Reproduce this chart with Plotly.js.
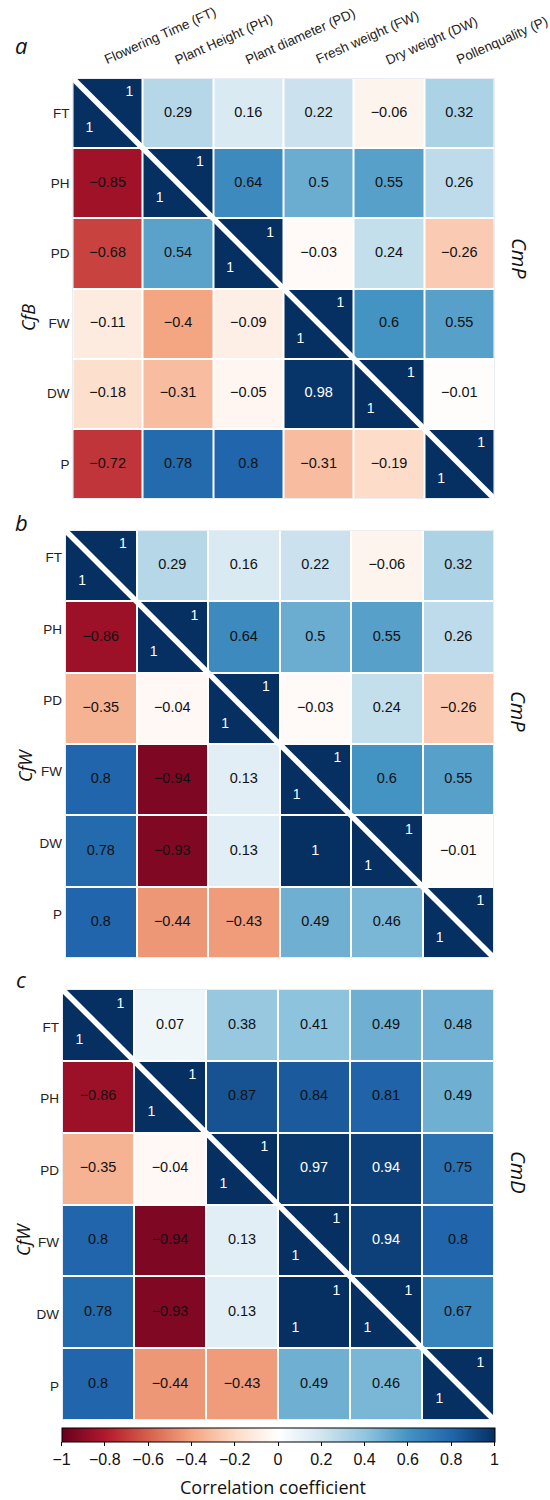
<!DOCTYPE html>
<html>
<head>
<meta charset="utf-8">
<script src="https://cdn.plot.ly/plotly-3.0.1.min.js"></script>
<style>html,body{margin:0;padding:0;background:#fff}</style>
</head>
<body>
<div id="chart" style="width:550px;height:1500px"></div>
<script>
// Trait names (column headers) and short codes (row labels)
const traitNames = ['Flowering Time (FT)', 'Plant Height (PH)', 'Plant diameter (PD)',
                    'Fresh weight (FW)', 'Dry weight (DW)', 'Pollenquality (P)'];
const traitCodes = ['FT', 'PH', 'PD', 'FW', 'DW', 'P'];

// Correlation matrices: lower triangle = first population, upper triangle = second
const corrA = [
  [ 1,     0.29,  0.16,  0.22, -0.06,  0.32],
  [-0.85,  1,     0.64,  0.5,   0.55,  0.26],
  [-0.68,  0.54,  1,    -0.03,  0.24, -0.26],
  [-0.11, -0.4,  -0.09,  1,     0.6,   0.55],
  [-0.18, -0.31, -0.05,  0.98,  1,    -0.01],
  [-0.72,  0.78,  0.8,  -0.31, -0.19,  1]
];
const corrB = [
  [ 1,     0.29,  0.16,  0.22, -0.06,  0.32],
  [-0.86,  1,     0.64,  0.5,   0.55,  0.26],
  [-0.35, -0.04,  1,    -0.03,  0.24, -0.26],
  [ 0.8,  -0.94,  0.13,  1,     0.6,   0.55],
  [ 0.78, -0.93,  0.13,  1,     1,    -0.01],
  [ 0.8,  -0.44, -0.43,  0.49,  0.46,  1]
];
const corrC = [
  [ 1,     0.07,  0.38,  0.41,  0.49,  0.48],
  [-0.86,  1,     0.87,  0.84,  0.81,  0.49],
  [-0.35, -0.04,  1,     0.97,  0.94,  0.75],
  [ 0.8,  -0.94,  0.13,  1,     0.94,  0.8],
  [ 0.78, -0.93,  0.13,  1,     1,     0.67],
  [ 0.8,  -0.44, -0.43,  0.49,  0.46,  1]
];
// off-diagonal cells whose value is written in the corners, like the diagonal
const cornerCellsA = [];
const cornerCellsB = [];
const cornerCellsC = [[4, 3]];

const panelLetters = ['a', 'b', 'c'];
const lowerGroups = ['CfB', 'CfW', 'CfW'];
const upperGroups = ['CmP', 'CmP', 'CmD'];

const colorTickVals = [-1, -0.8, -0.6, -0.4, -0.2, 0, 0.2, 0.4, 0.6, 0.8, 1];

const rdbu = [
  [0.0, '#67001F'], [0.1, '#B2182B'], [0.2, '#D6604D'], [0.3, '#F4A582'],
  [0.4, '#FDDBC7'], [0.5, '#FFFFFF'], [0.6, '#D1E5F0'], [0.7, '#92C5DE'],
  [0.8, '#4393C3'], [0.9, '#2166AC'], [1.0, '#053061']
];

const W = 550, H = 1500;
const px = v => v / W;
const py = v => 1 - v / H;

// panel boxes in pixels: [left, right, top, bottom]
const boxes = [
  [72.5, 494.5, 78, 499],
  [65, 494, 530, 958],
  [62, 494, 989, 1420]
];
// vertical nudge of the row labels in each panel (pixels)
const rowLabelShift = [0, 8, -2];
const matrices = [corrA, corrB, corrC];
const cornerSets = [cornerCellsA, cornerCellsB, cornerCellsC];
const idx = [0, 1, 2, 3, 4, 5];

const numFont = 'Liberation Sans, Arial, sans-serif';
const humanFont = 'Open Sans, Noto Sans, sans-serif';

function fmt(v) {
  return (v < 0 ? '\u2212' : '') + String(Math.abs(v));
}

const traces = [];
const shapes = [];
const annotations = [];
const layout = {
  width: W, height: H,
  margin: {l: 0, r: 0, t: 0, b: 0},
  paper_bgcolor: '#fff', plot_bgcolor: '#fff',
  showlegend: false,
  font: {family: numFont, color: '#111'},
  coloraxis: {
    cmin: -1, cmax: 1, colorscale: rdbu,
    colorbar: {
      orientation: 'h',
      x: px(278), xanchor: 'center',
      lenmode: 'pixels', len: 433,
      y: py(1428), yanchor: 'top',
      thickness: 14, thicknessmode: 'pixels',
      xpad: 0, ypad: 0,
      outlinewidth: 1, outlinecolor: '#000',
      tickmode: 'array', tickvals: colorTickVals,
      ticks: 'outside', ticklen: 4, tickcolor: '#000',
      tickfont: {family: numFont, size: 16, color: '#111'}
    }
  }
};

matrices.forEach((m, p) => {
  const n = p + 1;
  const xa = n === 1 ? 'x' : 'x' + n;
  const ya = n === 1 ? 'y' : 'y' + n;
  const [L, R, T, B] = boxes[p];

  traces.push({
    type: 'heatmap', z: m, x: idx, y: idx,
    xaxis: xa, yaxis: ya, coloraxis: 'coloraxis',
    xgap: 2, ygap: 2, hoverinfo: 'skip'
  });

  const isCorner = (r, c) => r === c || cornerSets[p].some(e => e[0] === r && e[1] === c);
  const tx = [], ty = [], tt = [], tc = [], ts = [];
  m.forEach((row, r) => row.forEach((v, c) => {
    if (isCorner(r, c)) {
      tx.push(c + 0.31); ty.push(r - 0.29); tt.push(fmt(v)); tc.push('#fff'); ts.push(14);
      tx.push(c - 0.26); ty.push(r + 0.22); tt.push(fmt(v)); tc.push('#fff'); ts.push(14);
    } else {
      tx.push(c); ty.push(r); tt.push(fmt(v));
      tc.push(v >= 0.9 ? '#fff' : '#111'); ts.push(14.5);
    }
  }));
  traces.push({
    type: 'scatter', mode: 'text', x: tx, y: ty, text: tt,
    textposition: 'middle center',
    textfont: {family: numFont, size: ts, color: tc},
    xaxis: xa, yaxis: ya, hoverinfo: 'skip', cliponaxis: false
  });

  layout['xaxis' + (n === 1 ? '' : n)] = {
    domain: [px(L), px(R)], anchor: ya, range: [-0.5, 5.5],
    showgrid: false, zeroline: false, showline: false, ticks: '',
    tickmode: 'array', tickvals: idx, showticklabels: false, fixedrange: true
  };
  layout['yaxis' + (n === 1 ? '' : n)] = {
    domain: [py(B), py(T)], anchor: xa, range: [5.5, -0.5],
    showgrid: false, zeroline: false, showline: false, ticks: '',
    tickmode: 'array', tickvals: idx, ticktext: traitCodes,
    ticklabelshift: rowLabelShift[p], ticklabelstandoff: 2,
    tickfont: {family: numFont, size: 13.5, color: '#222'}, fixedrange: true
  };

  // slanted column headers above the first matrix
  if (p === 0) {
    traitNames.forEach((name, i) => {
      annotations.push({xref: xa, yref: 'paper', x: i, xshift: -8, y: py(T - 8),
        text: name, showarrow: false, textangle: -24,
        xanchor: 'left', yanchor: 'bottom',
        font: {family: numFont, size: 13.5, color: '#222'}});
    });
  }

  // faint frame round the matrix
  shapes.push({type: 'rect', xref: xa, yref: ya, x0: -0.5, x1: 5.5, y0: -0.5, y1: 5.5,
               line: {color: '#d5dde6', width: 1}, layer: 'below'});
  // white slash across the diagonal
  shapes.push({type: 'line', xref: xa, yref: ya, x0: -0.5, y0: -0.5, x1: 5.55, y1: 5.55,
               line: {color: '#fff', width: 5.5}, layer: 'above'});

  annotations.push({xref: 'paper', yref: 'paper', x: px(21), y: py([45, 522, 979][p]),
    text: panelLetters[p], showarrow: false, xanchor: 'center', yanchor: 'middle',
    font: {family: humanFont, size: 22, style: 'italic', color: '#111'}});
  annotations.push({xref: 'paper', yref: 'paper', x: px([28, 25, 23][p]), y: py([318, 766, 1240][p]),
    text: lowerGroups[p], showarrow: false, textangle: -90, xanchor: 'center', yanchor: 'middle',
    font: {family: humanFont, size: 18, style: 'italic', color: '#111'}});
  annotations.push({xref: 'paper', yref: 'paper', x: px(519), y: py([258, 711, 1172][p]),
    text: upperGroups[p], showarrow: false, textangle: 90, xanchor: 'center', yanchor: 'middle',
    font: {family: humanFont, size: 20, style: 'italic', color: '#111'}});
});

annotations.push({xref: 'paper', yref: 'paper', x: px(273), y: py(1487),
  text: 'Correlation coefficient', showarrow: false, xanchor: 'center', yanchor: 'middle',
  font: {family: humanFont, size: 18, color: '#111'}});

layout.shapes = shapes;
layout.annotations = annotations;

Plotly.newPlot('chart', traces, layout, {displayModeBar: false, staticPlot: true});
</script>
</body>
</html>
